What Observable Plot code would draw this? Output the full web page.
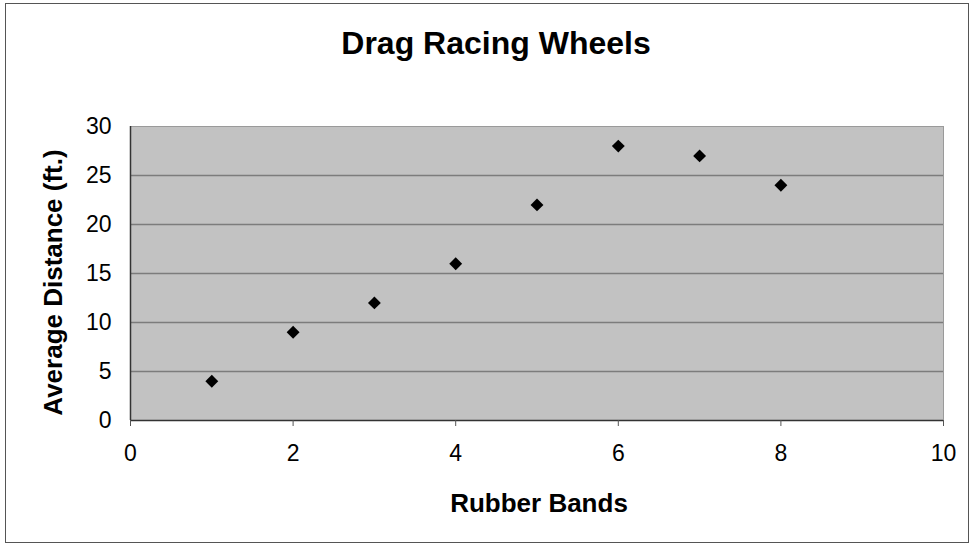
<!DOCTYPE html>
<html>
<head>
<meta charset="utf-8">
<script src="https://cdn.jsdelivr.net/npm/d3@7"></script>
<script src="https://cdn.jsdelivr.net/npm/@observablehq/plot@0.6"></script>
<style>
  html, body { margin: 0; padding: 0; background: #fff; }
  #chart { position: relative; width: 974px; height: 549px; }
  #border { position: absolute; left: 5px; top: 3px; width: 964px; height: 540px; border: 1px solid #555; box-sizing: border-box; pointer-events: none; }
  svg { font-family: "Liberation Sans", Arial, sans-serif; display: block; }
</style>
</head>
<body>
<div id="chart"><div id="border"></div></div>
<script>
const rubberBands = [1, 2, 3, 4, 5, 6, 7, 8];
const avgDistance = [4, 9, 12, 16, 22, 28, 27, 24];
const xTicks = [0, 2, 4, 6, 8, 10];
const yTicks = [0, 5, 10, 15, 20, 25, 30];
const title = "Drag Racing Wheels";
const xLabel = "Rubber Bands";
const yLabel = "Average Distance (ft.)";

const data = rubberBands.map((x, i) => ({x, y: avgDistance[i]}));

const plot = Plot.plot({
  width: 974,
  height: 549,
  marginLeft: 130,
  marginRight: 31,
  marginTop: 126,
  marginBottom: 129,
  style: {fontFamily: '"Liberation Sans", Arial, sans-serif', background: "transparent", color: "#000"},
  x: {domain: [0, 10], ticks: xTicks},
  y: {domain: [0, 30], ticks: yTicks},
  marks: [
    Plot.frame({fill: "#c2c2c2", stroke: "#9a9a9a"}),
    Plot.gridY(yTicks.filter(d => d > 0 && d < 30), {stroke: "#7c7c7c", strokeOpacity: 1, strokeWidth: 1.3}),
    Plot.ruleX([0], {stroke: "#333", strokeWidth: 1.5}),
    Plot.ruleY([0], {stroke: "#333", strokeWidth: 1.5}),
    Plot.axisX(xTicks, {tickSize: 6, tickPadding: 18, fontSize: 23, stroke: "#555", label: null}),
    Plot.axisY(yTicks, {tickSize: 0, tickPadding: 19, fontSize: 23, label: null}),
    Plot.dot(data, {x: "x", y: "y", symbol: "diamond2", r: 5.8, fill: "#000", stroke: null}),
    Plot.text([title], {frameAnchor: "top", dx: -41, dy: -83, lineAnchor: "middle", textAnchor: "middle", fontSize: 32, fontWeight: "bold", fill: "#000"}),
    Plot.text([xLabel], {frameAnchor: "bottom", dx: 2, dy: 83, lineAnchor: "middle", textAnchor: "middle", fontSize: 26, fontWeight: "bold", fill: "#000"}),
    Plot.text([yLabel], {frameAnchor: "left", dx: -77, dy: 9, rotate: -90, lineAnchor: "middle", textAnchor: "middle", fontSize: 26, fontWeight: "bold", fill: "#000"})
  ]
});
document.getElementById("chart").insertBefore(plot, document.getElementById("border"));
</script>
</body>
</html>
